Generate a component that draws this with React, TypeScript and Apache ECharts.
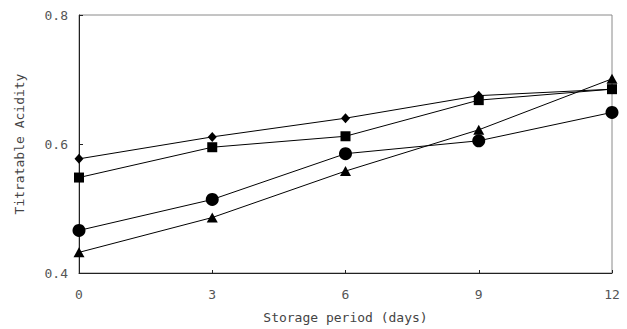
import React, { useEffect, useRef } from "react";
import * as echarts from "echarts";

const days = [0, 3, 6, 9, 12];
const diamondSeries = [0.577, 0.611, 0.640, 0.675, 0.685];
const squareSeries = [0.548, 0.595, 0.612, 0.668, 0.685];
const circleSeries = [0.466, 0.514, 0.585, 0.605, 0.649];
const triangleSeries = [0.432, 0.486, 0.558, 0.622, 0.701];
const yTicks = [0.4, 0.6, 0.8];

const FONT = "DejaVu Sans Mono";

export default function App() {
  const ref = useRef<HTMLDivElement>(null);
  useEffect(() => {
    if (!ref.current) return;
    const chart = echarts.init(ref.current, null, { renderer: "svg" });
    const mk = (vals: number[], symbol: string, size: number | number[]) => ({
      type: "line",
      data: days.map((d, i) => [d, vals[i]]),
      symbol,
      symbolSize: size,
      showSymbol: true,
      lineStyle: { color: "#000", width: 1 },
      itemStyle: { color: "#000", borderWidth: 0 },
      z: 3,
    });
    chart.setOption({
      animation: false,
      backgroundColor: "#fff",
      grid: {
        left: 79,
        right: 15,
        top: 15,
        bottom: 54,
        show: true,
        borderColor: "#8a8a8a",
        borderWidth: 1,
        backgroundColor: "transparent",
      },
      xAxis: {
        type: "value",
        min: 0,
        max: 12,
        interval: 3,
        name: "Storage period (days)",
        nameLocation: "middle",
        nameGap: 38,
        nameTextStyle: { color: "#444", fontFamily: FONT, fontSize: 13 },
        axisLine: { lineStyle: { color: "#222", width: 1 } },
        axisTick: { show: true, inside: true, length: 3, lineStyle: { color: "#222" } },
        axisLabel: { color: "#555", fontFamily: FONT, fontSize: 13, margin: 15 },
        splitLine: { show: false },
      },
      yAxis: {
        type: "value",
        min: 0.4,
        max: 0.8,
        interval: 0.2,
        name: "Titratable Acidity",
        nameLocation: "middle",
        nameGap: 53,
        nameRotate: 90,
        nameTextStyle: { color: "#444", fontFamily: FONT, fontSize: 13 },
        axisLine: { show: true, lineStyle: { color: "#222", width: 1 } },
        axisTick: { show: true, inside: true, length: 4, lineStyle: { color: "#222" } },
        axisLabel: {
          color: "#555",
          fontFamily: FONT,
          fontSize: 13,
          margin: 11,
          formatter: (v: number) => {
            const t = yTicks.find((y) => Math.abs(y - v) < 1e-6);
            return t !== undefined ? t.toFixed(1) : "";
          },
        },
        splitLine: { show: false },
      },
      series: [
        mk(diamondSeries, "diamond", [9, 10]),
        mk(squareSeries, "rect", 10),
        mk(circleSeries, "circle", 13),
        mk(triangleSeries, "triangle", [11, 10]),
      ],
    });
    return () => chart.dispose();
  }, []);
  return (
    <div
      ref={ref}
      style={{ position: "absolute", left: 0, top: 0, width: 627, height: 329 }}
    />
  );
}
